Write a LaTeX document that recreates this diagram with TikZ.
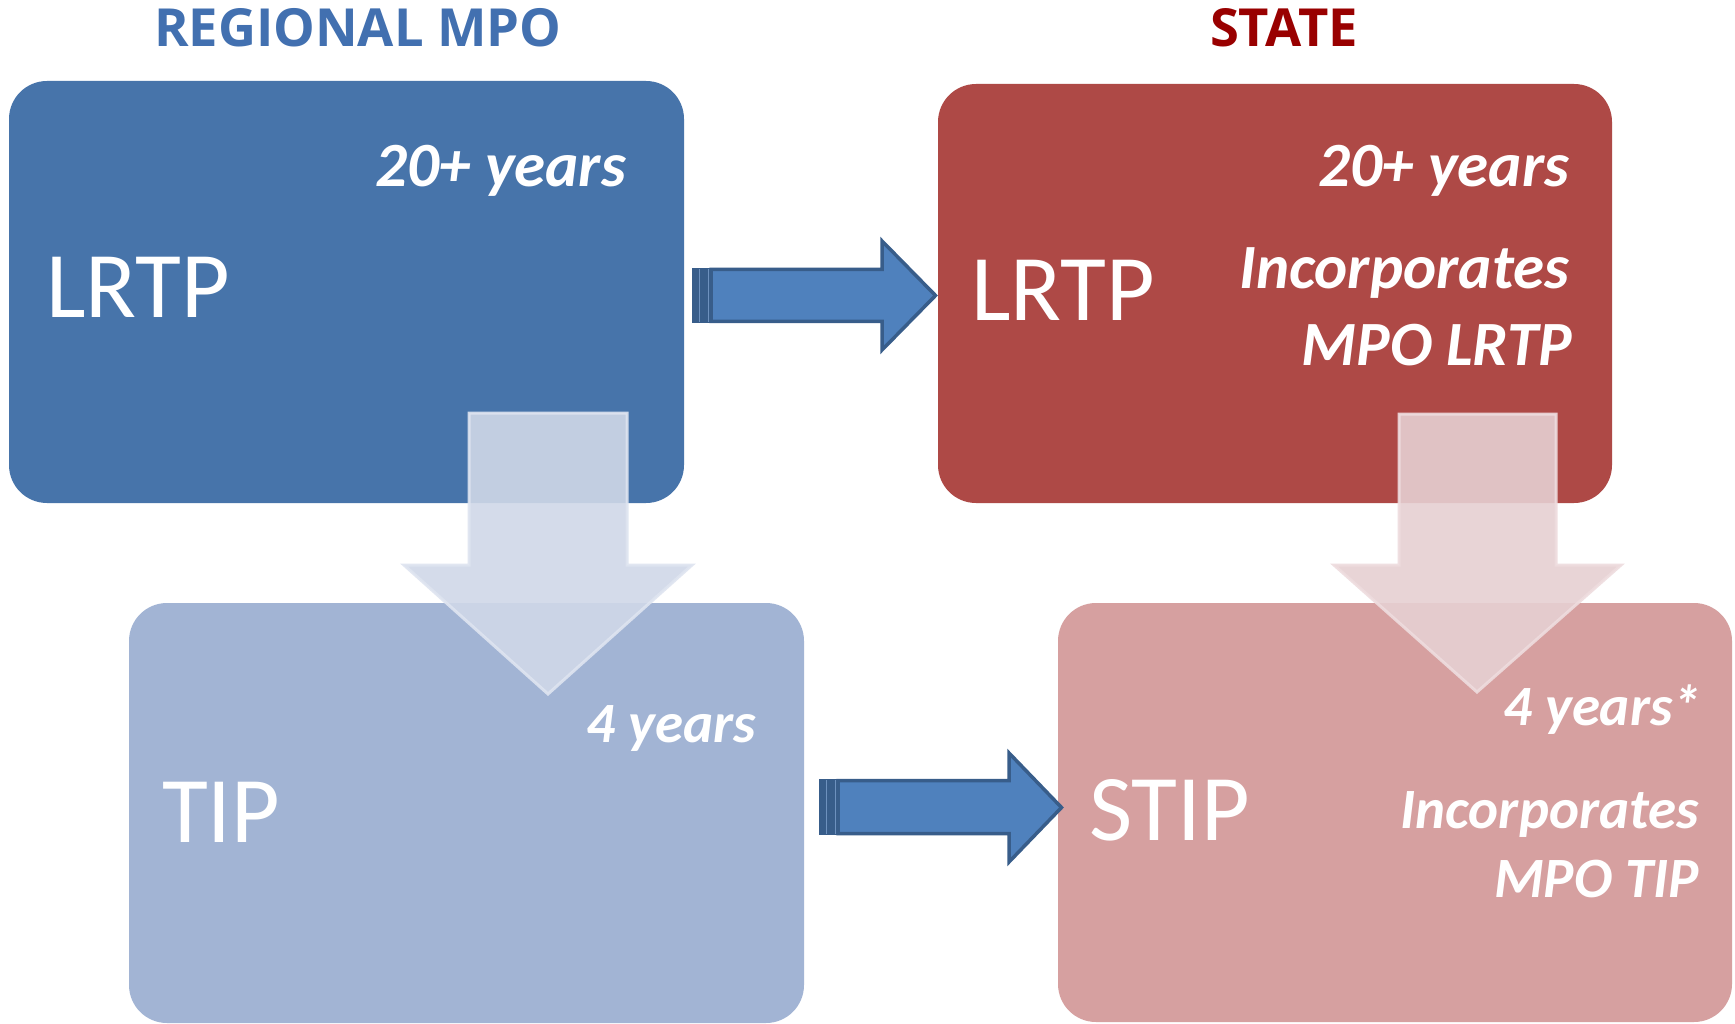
\documentclass[tikz,border=0pt]{standalone}
\usepackage{fontspec}
\setmainfont{Carlito}
\newfontfamily\titlefont{Open Sans}
\definecolor{boxA}{RGB}{71,116,170}
\definecolor{boxB}{RGB}{174,73,70}
\definecolor{boxC}{RGB}{162,180,212}
\definecolor{boxD}{RGB}{214,160,160}
\definecolor{downblue}{RGB}{208,216,232}
\definecolor{downblueedge}{RGB}{222,228,240}
\definecolor{downred}{RGB}{230,208,210}
\definecolor{downrededge}{RGB}{238,220,222}
\definecolor{arrfill}{RGB}{79,129,189}
\definecolor{arredge}{RGB}{56,93,138}
\definecolor{arrline}{RGB}{110,145,190}
\definecolor{titleblue}{RGB}{66,112,176}
\definecolor{titlered}{RGB}{153,0,0}
\tikzset{
  panel/.style={rounded corners=38pt, inner sep=0pt, outer sep=0pt, draw=none},
  biglabel/.style={text=white, inner sep=0pt, outer sep=0pt, anchor=base west, font=\fontsize{94}{94}\selectfont},
  notelarge/.style={text=white, inner sep=0pt, outer sep=0pt, anchor=base east, font=\fontsize{63}{63}\selectfont\bfseries\itshape},
  notesmall/.style={text=white, inner sep=0pt, outer sep=0pt, anchor=base east, font=\fontsize{57}{57}\selectfont\bfseries\itshape},
  titletext/.style={inner sep=0pt, outer sep=0pt, anchor=base west, font=\titlefont\bfseries\fontsize{52.5}{52.5}\selectfont},
  downarrow/.style={fill opacity=0.9, draw opacity=0.9, line width=3pt, line join=miter},
  blockarrow/.style={fill=arrfill, draw=arredge, line width=3.5pt, line join=miter},
  tailstripe/.style={fill=arredge, draw=none},
  stripeline/.style={draw=arrline, line width=0.9pt}
}
\begin{document}
\begin{tikzpicture}[x=1pt,y=-1pt]
\useasboundingbox (0,0) rectangle (1735,1024);
\fill[white] (0,0) rectangle (1735,1024);

% panels
\node[panel, fill=boxA, minimum width=675pt, minimum height=422pt] (mpolrtp) at (346.5,292) {};
\node[panel, fill=boxB, minimum width=674pt, minimum height=419pt] (statelrtp) at (1275,293.5) {};
\node[panel, fill=boxC, minimum width=675pt, minimum height=420pt] (mpotip) at (466.5,813) {};
\node[panel, fill=boxD, minimum width=674pt, minimum height=419pt] (stip) at (1395,812.5) {};

% titles
\node[titletext, text=titleblue] (t1) at (154,47) {REGIONAL MPO};
\node[titletext, text=titlered] (t2) at (1210,47) {STATE};

% translucent down arrows
\draw[downarrow, fill=downblue, draw=downblueedge]
  (469,413) -- (627,413) -- (627,565) -- (692,565) -- (548,694) -- (404,565) -- (469,565) -- cycle;
\draw[downarrow, fill=downred, draw=downrededge]
  (1399,414) -- (1556,414) -- (1556,565) -- (1621,565) -- (1477,692) -- (1334,565) -- (1399,565) -- cycle;

% labels
\node[biglabel] (l1) at (46,318) {LRTP};
\node[notelarge] (n1) at (626,187) {20+ years};

\node[biglabel] (l2) at (971,321) {LRTP};
\node[notelarge] (n2) at (1569,187) {20+ years};
\node[notelarge] (n3) at (1569,289) {Incorporates};
\node[notelarge] (n4) at (1572,366) {MPO LRTP};

\node[biglabel] (l3) at (162,842) {TIP};
\node[notesmall] (n5) at (756,742) {4 years};

\node[biglabel] (l4) at (1089,840) {STIP};
\node[notesmall] (n6) at (1701,725) {4 years*};
\node[notesmall] (n7) at (1699,828) {Incorporates};
\node[notesmall] (n8) at (1699,897) {MPO TIP};

% striped block arrows
\fill[tailstripe] (692,268) rectangle (711,323);
\draw[stripeline] (699.5,269) -- (699.5,322);
\draw[stripeline] (708.5,269) -- (708.5,322);
\draw[blockarrow] (711,269.5) -- (882,269.5) -- (882,241) -- (935.5,295.5) -- (882,350) -- (882,321.5) -- (711,321.5) -- cycle;

\fill[tailstripe] (819,779) rectangle (838,835);
\draw[stripeline] (826.5,780) -- (826.5,834);
\draw[stripeline] (835.5,780) -- (835.5,834);
\draw[blockarrow] (838,780.5) -- (1009,780.5) -- (1009,753) -- (1061.5,807.5) -- (1009,862) -- (1009,833.5) -- (838,833.5) -- cycle;
\end{tikzpicture}
\end{document}
